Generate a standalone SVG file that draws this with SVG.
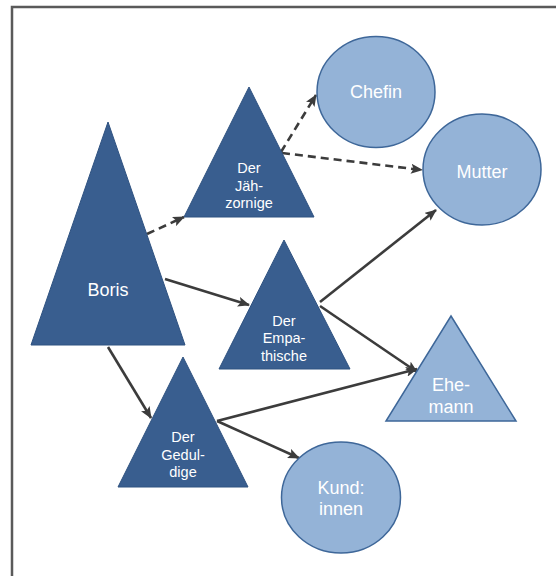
<svg xmlns="http://www.w3.org/2000/svg" width="556" height="576" viewBox="0 0 556 576">
<defs>
<style>
.dark{fill:#395E8F;stroke:#2F5280;stroke-width:1}
.light{fill:#94B3D7;stroke:#3E6799;stroke-width:1.5}
.t{font-family:"Liberation Sans",Arial,sans-serif;fill:#ffffff;text-anchor:middle}
.big{font-size:18px}
.small{font-size:14.5px}
.c{stroke:#3C3C3C;stroke-width:2.6;fill:none;marker-end:url(#ah)}
.d{stroke-dasharray:8 5}
</style>
<marker id="ah" markerUnits="userSpaceOnUse" markerWidth="12" markerHeight="10" viewBox="0 0 12 10" refX="11" refY="5" orient="auto">
<path d="M0,0 L12,5 L0,10 L2.5,5 z" fill="#3C3C3C"/>
</marker>
</defs>
<rect x="0" y="0" width="556" height="576" fill="#ffffff"/>
<path d="M12,577 L12,7 L557,7" fill="none" stroke="#5A5A5A" stroke-width="2.5"/>
<g id="connectors">
<line class="c d" x1="147" y1="234" x2="184" y2="217"/>
<line class="c d" x1="281" y1="152" x2="316" y2="95"/>
<line class="c d" x1="282" y1="153" x2="422" y2="170"/>
<line class="c" x1="165" y1="279" x2="249" y2="305"/>
<line class="c" x1="320" y1="302" x2="436" y2="210"/>
<line class="c" x1="320" y1="306" x2="417" y2="372"/>
<line class="c" x1="108" y1="347" x2="151" y2="418"/>
<line class="c" x1="217" y1="421" x2="417" y2="369"/>
<line class="c" x1="217" y1="421" x2="299" y2="458"/>
</g>
<g id="boris">
<polygon class="dark" points="108,122 185,345 31,345"/>
<text class="t big" x="108" y="296">Boris</text>
</g>
<g id="jaehzornige">
<polygon class="dark" points="249,87 314,217 184,217"/>
<text class="t small" x="249" y="173">Der</text>
<text class="t small" x="249" y="191">Jäh-</text>
<text class="t small" x="249" y="208">zornige</text>
</g>
<g id="empathische">
<polygon class="dark" points="284,240 350,369 219,369"/>
<text class="t small" x="284" y="326">Der</text>
<text class="t small" x="284" y="343">Empa-</text>
<text class="t small" x="284" y="361">thische</text>
</g>
<g id="geduldige">
<polygon class="dark" points="183,357 248,487 118,487"/>
<text class="t small" x="183" y="442">Der</text>
<text class="t small" x="183" y="460">Gedul-</text>
<text class="t small" x="183" y="477">dige</text>
</g>
<g id="chefin">
<ellipse class="light" cx="376" cy="92" rx="59" ry="55.5"/>
<text class="t big" x="376" y="98">Chefin</text>
</g>
<g id="mutter">
<ellipse class="light" cx="482" cy="169.5" rx="59" ry="55.5"/>
<text class="t big" x="482" y="178">Mutter</text>
</g>
<g id="ehemann">
<polygon class="light" points="451,316 516,421 386,421"/>
<text class="t big" x="451" y="391">Ehe-</text>
<text class="t big" x="451" y="413">mann</text>
</g>
<g id="kundinnen">
<ellipse class="light" cx="341" cy="497.5" rx="59.5" ry="55.5"/>
<text class="t big" x="341" y="494">Kund:</text>
<text class="t big" x="341" y="515">innen</text>
</g>
</svg>
